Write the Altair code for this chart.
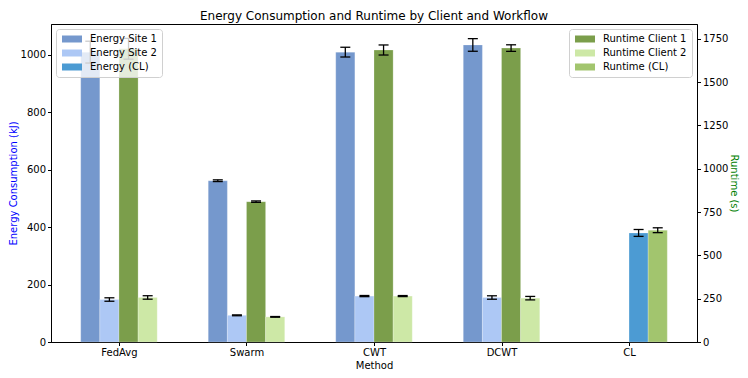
import altair as alt
import pandas as pd

# ---------------- data ----------------
methods = ["FedAvg", "Swarm", "CWT", "DCWT", "CL"]

energy_site1 = [1010, 562, 1010, 1035]
energy_site1_err = [38, 3, 17, 22]
energy_site2 = [148, 93, 160, 155]
energy_site2_err = [6, 1.5, 2, 6]
energy_cl = [380]
energy_cl_err = [12]

runtime_client1 = [1692, 810, 1685, 1696]
runtime_client1_err = [60, 4, 29, 19]
runtime_client2 = [257, 145, 265, 253]
runtime_client2_err = [10, 2, 3, 10]
runtime_cl = [645]
runtime_cl_err = [14]

energy_series = ["Energy Site 1", "Energy Site 2", "Energy (CL)"]
runtime_series = ["Runtime Client 1", "Runtime Client 2", "Runtime (CL)"]
energy_colors = ["#7598CD", "#ADC8F5", "#4C9BD3"]
runtime_colors = ["#7B9E4B", "#CDE8A6", "#A2C56E"]

BAR_W = 0.15
FONT = "DejaVu Sans"


def rows(values, errs, series, slot, start):
    out = []
    for k, (v, e) in enumerate(zip(values, errs)):
        i = start + k
        out.append({
            "method": methods[i], "idx": i, "series": series,
            "value": v, "lo": v - e, "hi": v + e,
            "x0": i + (slot - 0.5) * BAR_W,
            "x1": i + (slot + 0.5) * BAR_W,
            "xc": i + slot * BAR_W,
        })
    return out


energy_df = pd.DataFrame(
    rows(energy_site1, energy_site1_err, "Energy Site 1", -1.5, 0)
    + rows(energy_site2, energy_site2_err, "Energy Site 2", -0.5, 0)
    + rows(energy_cl, energy_cl_err, "Energy (CL)", 0.5, 4)
)
runtime_df = pd.DataFrame(
    rows(runtime_client1, runtime_client1_err, "Runtime Client 1", 0.5, 0)
    + rows(runtime_client2, runtime_client2_err, "Runtime Client 2", 1.5, 0)
    + rows(runtime_cl, runtime_cl_err, "Runtime (CL)", 1.5, 4)
)

label_expr = "[" + ",".join("'%s'" % m for m in methods) + "][round(datum.value)]"
xscale = alt.Scale(domain=[-0.533, 4.533], nice=False, zero=False)
xaxis = alt.Axis(values=list(range(len(methods))), labelExpr=label_expr,
                 title="Method", grid=False, tickSize=3.5, labelPadding=2,
                 titlePadding=3, labelFontSize=10, titleFontSize=10,
                 titleFontWeight="normal", labelFont=FONT, titleFont=FONT,
                 domainColor="black", tickColor="black", labelColor="black",
                 titleColor="black")

left_axis = alt.Axis(values=[0, 200, 400, 600, 800, 1000], grid=False, format="d",
                     title="Energy Consumption (kJ)", titleColor="blue",
                     tickSize=3.5, labelPadding=2, titlePadding=2,
                     labelFontSize=10, titleFontSize=10, titleFontWeight="normal",
                     labelFont=FONT, titleFont=FONT, domainColor="black",
                     tickColor="black", labelColor="black")
right_axis = alt.Axis(values=[0, 250, 500, 750, 1000, 1250, 1500, 1750], grid=False,
                      format="d", orient="right", title="Runtime (s)",
                      titleColor="green", tickSize=3.5, labelPadding=2,
                      titlePadding=1, labelFontSize=10, titleFontSize=10,
                      titleFontWeight="normal", labelFont=FONT, titleFont=FONT,
                      domainColor="black", tickColor="black", labelColor="black")

legend_common = dict(
    title=None, offset=5, fillColor="rgba(255,255,255,0.8)",
    strokeColor="#d0d0d0", cornerRadius=3, padding=5,
    symbolType="M-2.5,-0.875H2.5V0.875H-2.5Z", symbolSize=64,
    symbolStrokeWidth=0, symbolOpacity=1, symbolOffset=6, labelOffset=13,
    labelFontSize=10, labelFont=FONT, labelColor="black", rowPadding=4,
)
left_legend = alt.Legend(orient="top-left", **legend_common)
right_legend = alt.Legend(orient="top-right", **legend_common)

e_y = alt.Scale(domain=[0, 1108], nice=False)
r_y = alt.Scale(domain=[0, 1835], nice=False)


def make_layer(df, yscale, yaxis, series, colors, legend):
    base = alt.Chart(df)
    bars = base.mark_bar(stroke="white", strokeWidth=0.4, strokeOpacity=0.6).encode(
        x=alt.X("x0:Q", scale=xscale, axis=xaxis),
        x2="x1:Q",
        y=alt.Y("value:Q", scale=yscale, axis=yaxis),
        y2=alt.datum(0),
        color=alt.Color("series:N", scale=alt.Scale(domain=series, range=colors),
                        legend=legend),
    )
    rule = base.mark_rule(color="black", strokeWidth=1.3).encode(
        x="xc:Q", y="lo:Q", y2="hi:Q")
    cap_lo = base.mark_tick(color="black", orient="horizontal", size=10,
                            thickness=1.3, opacity=1).encode(x="xc:Q", y="lo:Q")
    cap_hi = base.mark_tick(color="black", orient="horizontal", size=10,
                            thickness=1.3, opacity=1).encode(x="xc:Q", y="hi:Q")
    return alt.layer(bars, rule, cap_lo, cap_hi)


energy_layer = make_layer(energy_df, e_y, left_axis, energy_series, energy_colors, left_legend)
runtime_layer = make_layer(runtime_df, r_y, right_axis, runtime_series, runtime_colors, right_legend)

chart = alt.layer(energy_layer, runtime_layer).resolve_scale(
    y="independent", color="independent"
).properties(
    width=646, height=318,
    title=alt.TitleParams("Energy Consumption and Runtime by Client and Workflow",
                          font=FONT, fontSize=12, fontWeight="normal",
                          color="black", anchor="middle", offset=1),
    autosize=alt.AutoSizeParams(type="none"),
    padding={"left": 43, "top": 16, "right": 43, "bottom": 28},
).configure_view(stroke="black", strokeWidth=1)

chart.save("out.html", embed_options={"renderer": "svg", "actions": False})
